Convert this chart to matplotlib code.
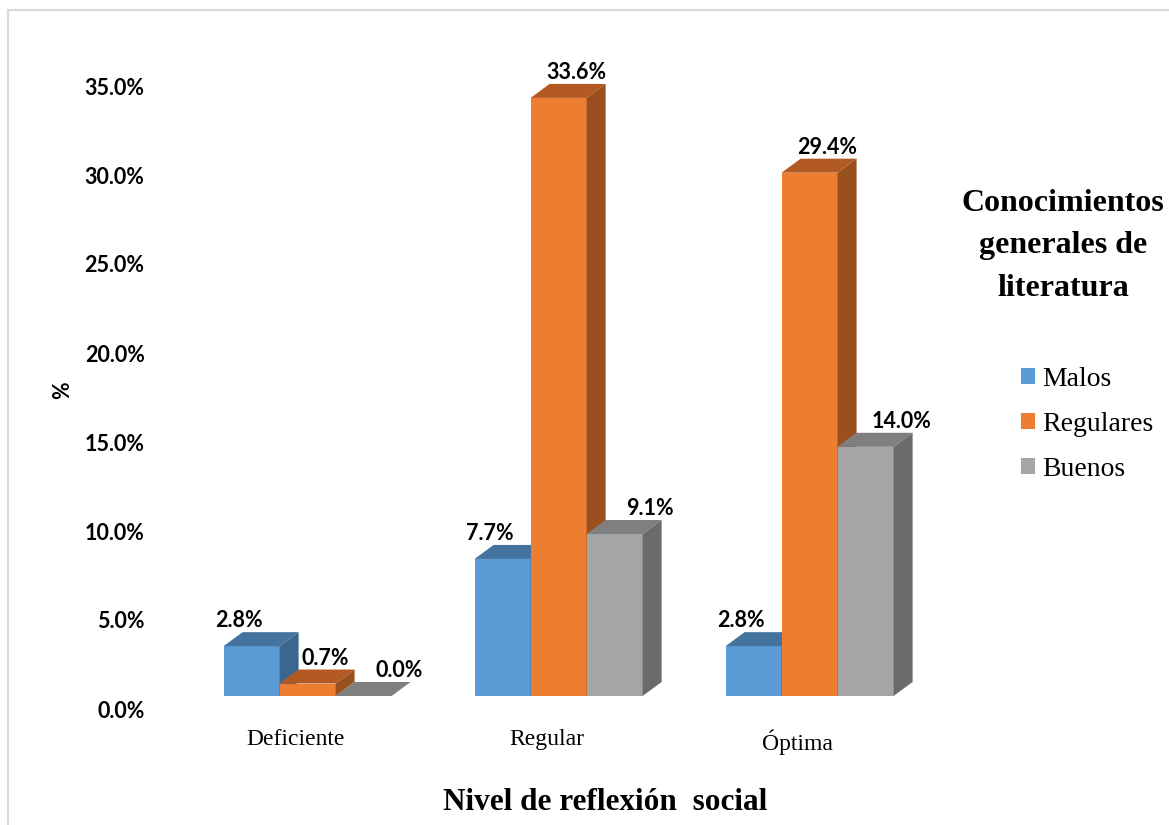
import numpy as np
import matplotlib.pyplot as plt
from matplotlib.patches import Polygon, Patch, Rectangle
from matplotlib.transforms import ScaledTranslation

# --- data ---
categories = ["Deficiente", "Regular", "Óptima"]
series = ["Malos", "Regulares", "Buenos"]
malos = [2.8, 7.7, 2.8]
regulares = [0.7, 33.6, 29.4]
buenos = [0.0, 9.1, 14.0]
yticks = [0, 5, 10, 15, 20, 25, 30, 35]

# --- style ---
front_col = ["#5B9BD5", "#ED7D31", "#A5A5A5"]
top_col = ["#44739F", "#B35A22", "#7F7F7F"]
side_col = ["#3B6690", "#9A4F1F", "#6B6B6B"]
label_dx = [-22, 8, 26]   # px shift of value labels per series

W, H = 1169, 825
fig = plt.figure(figsize=(W / 100, H / 100), dpi=100)
ax = fig.add_axes([157 / W, 129 / H, 3.2 * 251 / W, 38 * 17.8 / H])
ax.set_xlim(-0.6, 2.6)
ax.set_ylim(0, 38)

bw = 56 / 251          # bar width in group units
dx = 19 / 251          # depth offset, x
dy = 14 / 17.8         # depth offset, y (in %)

values = [malos, regulares, buenos]
x = np.arange(len(categories))
z = 2
for gi in range(len(categories)):
    for si, vals in enumerate(values):
        v = vals[gi]
        xc = x[gi] + (si - 1) * bw
        x0, x1 = xc - bw / 2, xc + bw / 2
        ax.bar(xc, v, width=bw, color=front_col[si], zorder=z, linewidth=0)
        ax.add_patch(Polygon([(x0, v), (x0 + dx, v + dy), (x1 + dx, v + dy), (x1, v)],
                             closed=True, facecolor=top_col[si], edgecolor="none", zorder=z))
        ax.add_patch(Polygon([(x1, 0), (x1 + dx, dy), (x1 + dx, v + dy), (x1, v)],
                             closed=True, facecolor=side_col[si], edgecolor="none", zorder=z))
        off = ScaledTranslation(label_dx[si] / 100, 1 / 100, fig.dpi_scale_trans)
        ax.text(xc + dx / 2, v + dy, f"{v:.1f}%", ha="center", va="bottom",
                fontsize=15.5, fontweight="bold", family="Lato", color="black",
                transform=ax.transData + off, zorder=10)
        z += 1

for s in ax.spines.values():
    s.set_visible(False)
ax.tick_params(length=0)

ax.set_yticks(yticks)
ax.set_yticklabels([f"{t:.1f}%" for t in yticks], fontsize=15.5, fontweight="bold", family="Lato")
ax.tick_params(axis="y", pad=9)
yoff = ScaledTranslation(0, -13 / 100, fig.dpi_scale_trans)
for lab in ax.get_yticklabels():
    lab.set_transform(lab.get_transform() + yoff)

ax.set_xticks(x)
ax.set_xticklabels(categories, fontsize=17, family="Liberation Serif")
ax.tick_params(axis="x", pad=24)
xoff = ScaledTranslation(-12 / 100, 0, fig.dpi_scale_trans)
for lab in ax.get_xticklabels():
    lab.set_transform(lab.get_transform() + xoff)

fig.text(63 / W, 1 - 390 / H, "%", rotation=90, ha="center", va="center",
         fontsize=15.5, fontweight="bold", family="Lato")
fig.text(605 / W, 1 - 802 / H, "Nivel de reflexión  social", ha="center", va="center",
         fontsize=22.5, fontweight="bold", family="Liberation Serif")

# legend
fig.text(1063 / W, 1 - 246 / H, "Conocimientos\ngenerales de\nliteratura", ha="center",
         va="center", fontsize=23, fontweight="bold", family="Liberation Serif", linespacing=1.6)
handles = [Patch(facecolor=c, edgecolor="none") for c in front_col]
leg = fig.legend(handles, series, loc="upper left", bbox_to_anchor=(1021 / W, 1 - 367 / H),
                 frameon=False, prop={"family": "Liberation Serif", "size": 20},
                 handlelength=0.5, handleheight=0.5, handletextpad=0.25, labelspacing=0.72,
                 borderaxespad=0, borderpad=0)

# chart frame
fig.add_artist(Rectangle((8 / W, -0.01), 1.0, 1 - 10 / H + 0.01, transform=fig.transFigure,
                         fill=False, edgecolor="#D9D9D9", lw=1.5))

fig.savefig("out.png", dpi=100)
